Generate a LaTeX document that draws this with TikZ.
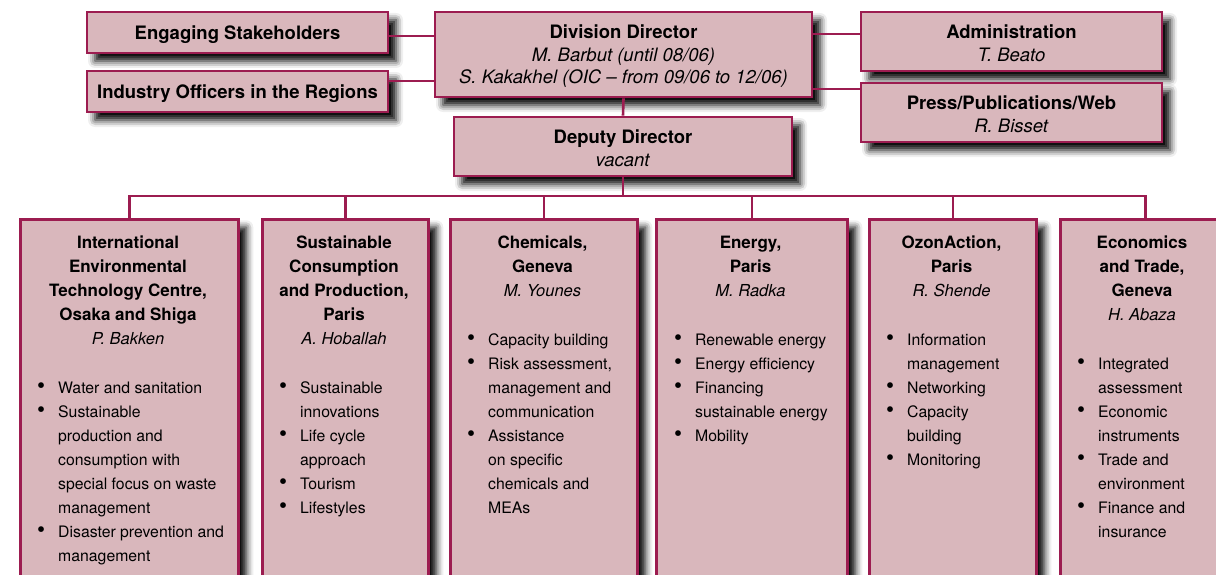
\documentclass[tikz,border=0pt]{standalone}
\usepackage{fontspec}
\setmainfont{TeX Gyre Heros}
\usetikzlibrary{shadows.blur}
\definecolor{unepred}{HTML}{9C1C50}
\definecolor{boxfill}{HTML}{D9B7BC}
% heading, person and bullet helpers for the unit boxes
\newcommand\ttl[1]{{\fontsize{17}{24}\selectfont\bfseries #1}}
\newcommand\who[1]{{\fontsize{16.5}{24}\selectfont\itshape #1}}
\newcommand\bul{\makebox[21pt][l]{\raisebox{-0.6pt}{\scalebox{1.45}{\textbullet}}}}
\newcommand\ind{\hspace*{21pt}}
% extra headroom so the text of the top boxes sits a little lower
\newcommand\lift{\rule{0pt}{17.5pt}}
\tikzset{
  unit/.style={draw=unepred, line width=2.6pt, fill=boxfill, inner sep=0pt,
    blur shadow={shadow xshift=8pt, shadow yshift=-8pt, shadow blur radius=7pt, shadow opacity=100}},
  topbox/.style={unit, align=center, font=\fontsize{18.5}{22.5}\selectfont},
  heads/.style={anchor=base, inner sep=0pt, font=\fontsize{16}{24}\selectfont},
  items/.style={anchor=base west, inner sep=0pt, font=\fontsize{15.8}{24}\selectfont},
  link/.style={draw=unepred, line width=2.6pt},
}
\begin{document}
\begin{tikzpicture}[x=1pt, y=-1pt]
\useasboundingbox (0,0) rectangle (1216,575);
\clip (0,0) rectangle (1216,575);

% management row
\node[topbox, minimum width=301pt, minimum height=41pt] (eng) at (237.5,32.5) {\lift\textbf{Engaging Stakeholders}};
\node[topbox, minimum width=301pt, minimum height=41pt] (ind) at (237.5,91.5) {\lift\textbf{Industry Officers in the Regions}};
\node[topbox, minimum width=377pt, minimum height=85pt] (div) at (623.5,54.5)
  {\lift\textbf{Division Director}\\ \textit{M. Barbut (until 08/06)}\\ \textit{S. Kakakhel (OIC -- from 09/06 to 12/06)}};
\node[topbox, minimum width=338pt, minimum height=59pt] (dep) at (623,146.5)
  {\lift\textbf{Deputy Director}\\ \textit{vacant}};
\node[topbox, minimum width=301pt, minimum height=59pt] (adm) at (1011.5,41.5)
  {\lift\textbf{Administration}\\ \textit{T. Beato}};
\node[topbox, minimum width=301pt, minimum height=59pt] (prs) at (1011.5,112.5)
  {\lift\textbf{Press/Publications/Web}\\ \textit{R. Bisset}};

% branches
\node[unit, anchor=north west, minimum width=218pt, minimum height=400pt] (b1) at (19,218) {};
\node[unit, anchor=north west, minimum width=166pt, minimum height=400pt] (b2) at (261,218) {};
\node[unit, anchor=north west, minimum width=187pt, minimum height=400pt] (b3) at (449,218) {};
\node[unit, anchor=north west, minimum width=191pt, minimum height=400pt] (b4) at (655,218) {};
\node[unit, anchor=north west, minimum width=167pt, minimum height=400pt] (b5) at (868,218) {};
\node[unit, anchor=north west, minimum width=170pt, minimum height=400pt] (b6) at (1059,218) {};

\node[heads] (h1) at (128,248) {\begin{tabular}[t]{@{}c@{}}
  \ttl{International}\\ \ttl{Environmental}\\ \ttl{Technology Centre,}\\ \ttl{Osaka and Shiga}\\ \who{P. Bakken}\end{tabular}};
\node[heads] (h2) at (344,248) {\begin{tabular}[t]{@{}c@{}}
  \ttl{Sustainable}\\ \ttl{Consumption}\\ \ttl{and Production,}\\ \ttl{Paris}\\ \who{A. Hoballah}\end{tabular}};
\node[heads] (h3) at (542.5,248) {\begin{tabular}[t]{@{}c@{}}
  \ttl{Chemicals,}\\ \ttl{Geneva}\\ \who{M. Younes}\end{tabular}};
\node[heads] (h4) at (750.5,248) {\begin{tabular}[t]{@{}c@{}}
  \ttl{Energy,}\\ \ttl{Paris}\\ \who{M. Radka}\end{tabular}};
\node[heads] (h5) at (951.5,248) {\begin{tabular}[t]{@{}c@{}}
  \ttl{OzonAction,}\\ \ttl{Paris}\\ \who{R. Shende}\end{tabular}};
\node[heads] (h6) at (1142,248) {\begin{tabular}[t]{@{}c@{}}
  \ttl{Economics}\\ \ttl{and Trade,}\\ \ttl{Geneva}\\ \who{H. Abaza}\end{tabular}};

\node[items] (l1) at (37,393) {\begin{tabular}[t]{@{}l@{}}
  \bul Water and sanitation\\ \bul Sustainable\\ \ind production and\\ \ind consumption with\\
  \ind special focus on waste\\ \ind management\\ \bul Disaster prevention and\\ \ind management\end{tabular}};
\node[items] (l2) at (279,393) {\begin{tabular}[t]{@{}l@{}}
  \bul Sustainable\\ \ind innovations\\ \bul Life cycle\\ \ind approach\\ \bul Tourism\\ \bul Lifestyles\end{tabular}};
\node[items] (l3) at (467,345) {\begin{tabular}[t]{@{}l@{}}
  \bul Capacity building\\ \bul Risk assessment,\\ \ind management and\\ \ind communication\\
  \bul Assistance\\ \ind on specific\\ \ind chemicals and\\ \ind MEAs\end{tabular}};
\node[items] (l4) at (674,345) {\begin{tabular}[t]{@{}l@{}}
  \bul Renewable energy\\ \bul Energy efficiency\\ \bul Financing\\ \ind sustainable energy\\ \bul Mobility\end{tabular}};
\node[items] (l5) at (886,345) {\begin{tabular}[t]{@{}l@{}}
  \bul Information\\ \ind management\\ \bul Networking\\ \bul Capacity\\ \ind building\\ \bul Monitoring\end{tabular}};
\node[items] (l6) at (1077,369) {\begin{tabular}[t]{@{}l@{}}
  \bul Integrated\\ \ind assessment\\ \bul Economic\\ \ind instruments\\ \bul Trade and\\ \ind environment\\
  \bul Finance and\\ \ind insurance\end{tabular}};

% reporting lines
\draw[link] ([yshift=-3.5pt]eng.east) -- ([yshift=-3.5pt]eng.east -| div.west);
\draw[link] ([yshift=10.5pt]ind.east) -- ([yshift=10.5pt]ind.east -| div.west);
\draw[link] ([yshift=7.5pt]adm.west) -- ([yshift=7.5pt]adm.west -| div.east);
\draw[link] ([yshift=23.5pt]prs.west) -- ([yshift=23.5pt]prs.west -| div.east);
\draw[link] (div.south) -- (dep.north);
\coordinate (bus) at (623,196);
\draw[link] (dep.south) -- (bus);
\draw[link] (b1.north) |- (b6.north |- bus) -- (b6.north);
\foreach \b in {b2,b3,b4,b5}
  \draw[link] (\b.north) -- (\b.north |- bus);
\end{tikzpicture}
\end{document}
